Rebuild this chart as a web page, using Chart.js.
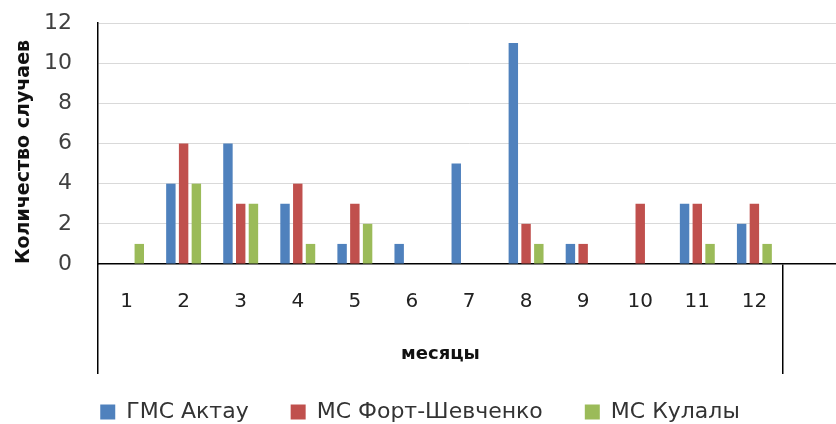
<!DOCTYPE html>
<html>
<head>
<meta charset="utf-8">
<script src="https://cdn.jsdelivr.net/npm/chart.js@4/dist/chart.umd.min.js"></script>
<style>
  html, body { margin: 0; padding: 0; background: #fff; overflow: hidden; width: 836px; height: 424px; }
  canvas { display: block; }
</style>
</head>
<body>
<canvas id="chart" width="840" height="424"></canvas>
<script>
// Months of the year; the trailing empty slot keeps the open cell on the right.
const months = ['1', '2', '3', '4', '5', '6', '7', '8', '9', '10', '11', '12', ''];

// Number of cases per month at each station
const aktau  = [0, 4, 6, 3, 1, 1, 5, 11, 1, 0, 3, 2, null];
const fort   = [0, 6, 3, 4, 3, 0, 0, 2, 1, 3, 3, 3, null];
const kulaly = [1, 4, 3, 1, 2, 0, 0, 1, 0, 0, 1, 1, null];

const seriesNames = ['ГМС Актау', 'МС Форт-Шевченко', 'МС Кулалы'];
const yMin = 0, yMax = 12, yStep = 2;
const yTitle = 'Количество случаев';
const xTitle = 'месяцы';

const colors = ['#4F81BD', '#C0504D', '#9BBB59'];
const FONT = 'DejaVu Sans';
const lastMonth = 11;

// Axis title under the month cells, centred on the twelve months
const monthTitle = {
  id: 'monthTitle',
  afterDraw(chart) {
    const x = chart.scales.x;
    const step = x.getPixelForValue(1) - x.getPixelForValue(0);
    const left = x.getPixelForValue(0) - step / 2;
    const right = x.getPixelForValue(lastMonth) + step / 2;
    const ctx = chart.ctx;
    ctx.save();
    ctx.font = 'bold 18px "' + FONT + '"';
    ctx.fillStyle = '#111';
    ctx.textAlign = 'center';
    ctx.textBaseline = 'middle';
    ctx.fillText(xTitle, (left + right) / 2, x.top + 90);
    ctx.restore();
  }
};

const cellEdge = c => (c.index === 0 || c.index === lastMonth + 1) ? '#000' : 'rgba(0,0,0,0)';

new Chart(document.getElementById('chart'), {
  type: 'bar',
  data: {
    labels: months,
    datasets: [aktau, fort, kulaly].map((d, i) => ({
      label: seriesNames[i],
      data: d,
      backgroundColor: colors[i],
      borderWidth: 0,
      categoryPercentage: 0.67,
      barPercentage: 0.74
    }))
  },
  options: {
    responsive: false,
    animation: false,
    events: [],
    layout: { padding: { top: 23, left: 0, right: 0, bottom: -9 } },
    plugins: {
      tooltip: { enabled: false },
      legend: {
        position: 'bottom',
        labels: {
          font: { family: FONT, size: 22 },
          color: '#333',
          boxWidth: 15,
          boxHeight: 15,
          padding: 42
        }
      }
    },
    scales: {
      x: {
        offset: true,
        border: { display: true, color: '#000', width: 1.5 },
        grid: {
          offset: true,
          drawOnChartArea: false,
          drawTicks: true,
          tickLength: 110,
          color: cellEdge,
          tickColor: cellEdge,
          lineWidth: 1.5,
          tickWidth: 1.5
        },
        ticks: {
          font: { family: FONT, size: 20 },
          color: '#222',
          padding: -84,
          maxRotation: 0,
          autoSkip: false
        },
        afterFit: s => { s.height = 95; }
      },
      y: {
        min: yMin,
        max: yMax,
        border: { display: true, color: '#000', width: 1.5 },
        grid: {
          drawTicks: false,
          color: c => (c.tick && c.tick.value === 0) ? 'rgba(0,0,0,0)' : '#d9d9d9',
          lineWidth: 1
        },
        ticks: {
          stepSize: yStep,
          font: { family: FONT, size: 22 },
          color: '#404040',
          padding: 26
        },
        title: {
          display: true,
          text: yTitle,
          align: 'start',
          font: { family: FONT, size: 19, weight: 'bold' },
          color: '#111',
          padding: { top: 13, bottom: 0 }
        },
        afterFit: s => {
          s.width = 98;
          s.paddingTop = 0;
          s.paddingBottom = 0;
        }
      }
    }
  },
  plugins: [monthTitle]
});
</script>
</body>
</html>
